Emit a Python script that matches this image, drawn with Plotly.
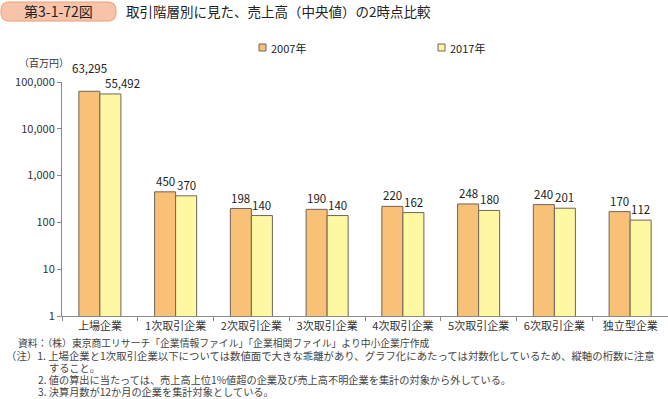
import math
import plotly.graph_objects as go

categories = ["上場企業", "1次取引企業", "2次取引企業", "3次取引企業", "4次取引企業",
              "5次取引企業", "6次取引企業", "独立型企業"]
values_2007 = [63295, 450, 198, 190, 220, 248, 240, 170]
values_2017 = [55492, 370, 140, 140, 162, 180, 201, 112]
series_names = ["2007年", "2017年"]
tick_vals = [1, 10, 100, 1000, 10000, 100000]
tick_text = ["1", "10", "100", "1,000", "10,000", "100,000"]

W, H = 668, 399
L, R, T, B = 62, 0, 82, 83
PW, PH = W - L - R, H - T - B
FONT = "Noto Sans CJK JP"
C07, C17 = "#F9C078", "#FFF8A3"
EDGE = "#6f645a"


def px(x):
    return (x - L) / PW


def py(y):
    return (H - B - y) / PH


fig = go.Figure()
for name, vals, col in [(series_names[0], values_2007, C07), (series_names[1], values_2017, C17)]:
    fig.add_trace(go.Bar(x=categories, y=vals, name=name, marker=dict(color=col, line=dict(color=EDGE, width=1)),
                         showlegend=False, hoverinfo="x+y"))

fig.update_layout(
    width=W, height=H, margin=dict(l=L, r=R, t=T, b=B, autoexpand=False),
    paper_bgcolor="white", plot_bgcolor="white",
    font=dict(family=FONT, size=11, color="#333"),
    barmode="group", bargap=0.445, bargroupgap=0,
    xaxis=dict(type="category", showline=True, linecolor="#8a8a8a", linewidth=1,
               ticks="outside", tickson="boundaries", ticklen=4, tickcolor="#8a8a8a",
               tickfont=dict(size=11, color="#333"), showgrid=False, zeroline=False, fixedrange=True),
    yaxis=dict(type="log", range=[0, 5], showline=True, linecolor="#8a8a8a", linewidth=1,
               ticks="outside", ticklen=4, tickcolor="#8a8a8a", tickvals=tick_vals, ticktext=tick_text,
               tickfont=dict(size=11, color="#333"), showgrid=False, zeroline=False, fixedrange=True),
)

# value labels
for i, cat in enumerate(categories):
    for vals, shift in [(values_2007, -10.5), (values_2017, 10.5)]:
        v = vals[i]
        ys = 1
        xs = shift
        if i == 0 and vals is values_2007:
            ys = 13
        if i == 0 and vals is values_2017:
            xs = shift + 12
        fig.add_annotation(x=cat, y=math.log10(v), xref="x", yref="y", text=f"{v:,}",
                           showarrow=False, xshift=xs, yshift=ys, yanchor="bottom",
                           font=dict(size=11.5, color="#222"))

# title box (pill shape)
x0, x1, y0, y1, r = 1, 116, 2, 21, 8


def P(x, y):
    return f"{px(x):.5f},{py(y):.5f}"


path = (f"M{P(x0 + r, y0)} L{P(x1 - r, y0)} Q{P(x1, y0)} {P(x1, y0 + r)} L{P(x1, y1 - r)} "
        f"Q{P(x1, y1)} {P(x1 - r, y1)} L{P(x0 + r, y1)} Q{P(x0, y1)} {P(x0, y1 - r)} "
        f"L{P(x0, y0 + r)} Q{P(x0, y0)} {P(x0 + r, y0)} Z")
fig.add_shape(type="path", xref="paper", yref="paper", path=path,
              fillcolor="#F7C4AA", line=dict(color="#EE9C72", width=1))
fig.add_annotation(xref="paper", yref="paper", x=px(58), y=py(11.5), text="第3-1-72図", showarrow=False,
                   xanchor="center", yanchor="middle", font=dict(size=14, color="#222"))
fig.add_annotation(xref="paper", yref="paper", x=px(124), y=py(11.5),
                   text="取引階層別に見た、売上高（中央値）の2時点比較", showarrow=False,
                   xanchor="left", yanchor="middle", font=dict(size=13.5, color="#222"))

# legend
for name, col, lx in [(series_names[0], C07, 259), (series_names[1], C17, 438)]:
    fig.add_shape(type="rect", xref="paper", yref="paper", x0=px(lx), x1=px(lx + 7), y0=py(51), y1=py(44),
                  fillcolor=col, line=dict(color=EDGE, width=1))
    fig.add_annotation(xref="paper", yref="paper", x=px(lx + 10), y=py(47.5), text=name, showarrow=False,
                       xanchor="left", yanchor="middle", font=dict(size=11, color="#222"))

# unit
fig.add_annotation(xref="paper", yref="paper", x=px(17), y=py(62), text="（百万円）", showarrow=False,
                   xanchor="left", yanchor="middle", font=dict(size=10, color="#333"))

# footnotes
notes = [
    (16, 343, 9.8, "資料：（株）東京商工リサーチ「企業情報ファイル」「企業相関ファイル」より中小企業庁作成"),
    (4, 355.2, 10.4, "（注）1. 上場企業と1次取引企業以下については数値面で大きな乖離があり、グラフ化にあたっては対数化しているため、縦軸の桁数に注意"),
    (47, 367.4, 10.2, "すること。"),
    (36, 379.6, 10.2, "2. 値の算出に当たっては、売上高上位1%値超の企業及び売上高不明企業を集計の対象から外している。"),
    (36, 391.8, 10.2, "3. 決算月数が12か月の企業を集計対象としている。"),
]
for x, y, s, t in notes:
    fig.add_annotation(xref="paper", yref="paper", x=px(x), y=py(y), text=t, showarrow=False,
                       xanchor="left", yanchor="middle", font=dict(size=s, color="#444"))

fig.write_html("out.html", config={"displayModeBar": False},
               post_script="document.body.style.margin='0';document.body.style.overflow='hidden';")
